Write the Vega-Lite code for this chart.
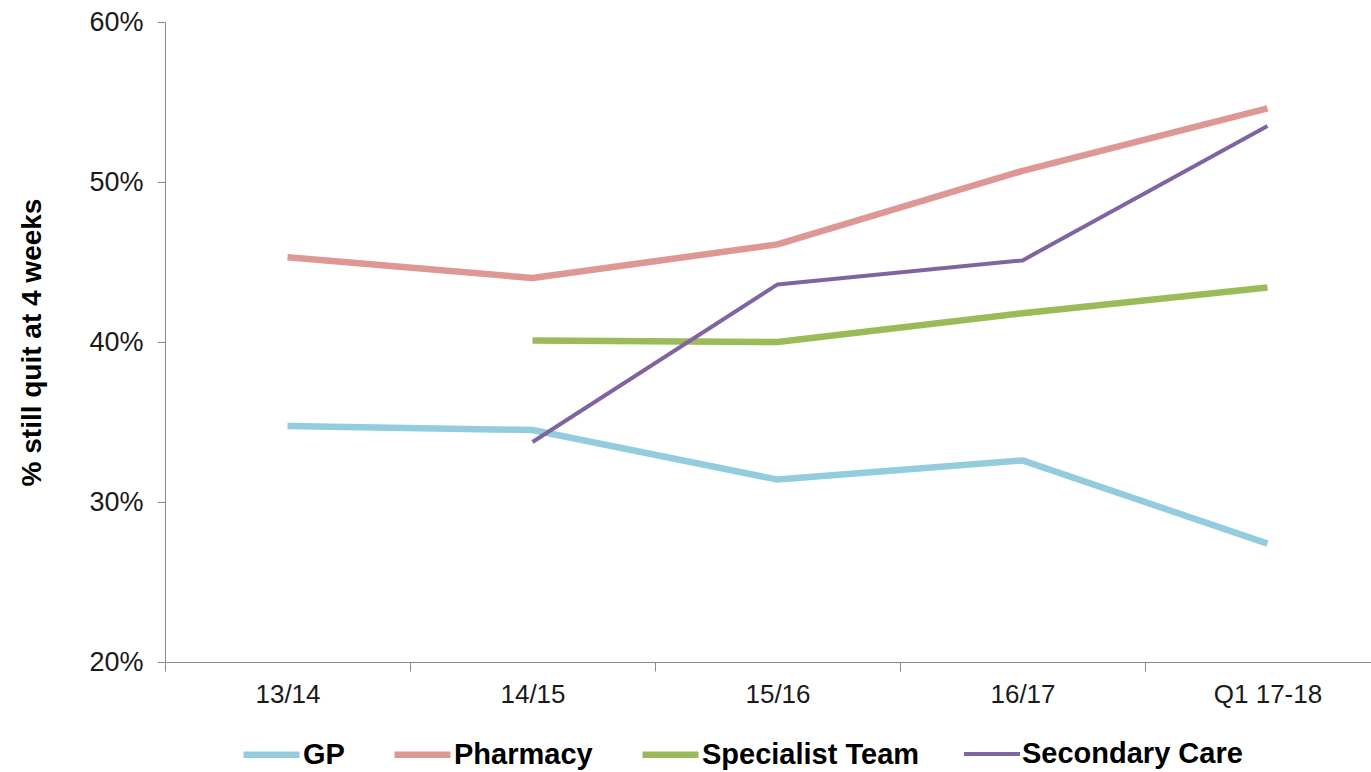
{
  "$schema": "https://vega.github.io/schema/vega-lite/v6.json",
  "autosize": {"type": "none"},
  "width": 1206,
  "height": 640,
  "padding": {"left": 165, "top": 22, "right": 0, "bottom": 110},
  "background": "white",
  "data": {
    "values": [
      {"year": "13/14", "series": "GP", "value": 0.3475},
      {"year": "14/15", "series": "GP", "value": 0.345},
      {"year": "15/16", "series": "GP", "value": 0.314},
      {"year": "16/17", "series": "GP", "value": 0.326},
      {"year": "Q1 17-18", "series": "GP", "value": 0.274},
      {"year": "13/14", "series": "Pharmacy", "value": 0.453},
      {"year": "14/15", "series": "Pharmacy", "value": 0.440},
      {"year": "15/16", "series": "Pharmacy", "value": 0.461},
      {"year": "16/17", "series": "Pharmacy", "value": 0.507},
      {"year": "Q1 17-18", "series": "Pharmacy", "value": 0.546},
      {"year": "14/15", "series": "Specialist Team", "value": 0.401},
      {"year": "15/16", "series": "Specialist Team", "value": 0.400},
      {"year": "16/17", "series": "Specialist Team", "value": 0.418},
      {"year": "Q1 17-18", "series": "Specialist Team", "value": 0.434},
      {"year": "14/15", "series": "Secondary Care", "value": 0.3375},
      {"year": "15/16", "series": "Secondary Care", "value": 0.436},
      {"year": "16/17", "series": "Secondary Care", "value": 0.451},
      {"year": "Q1 17-18", "series": "Secondary Care", "value": 0.535}
    ]
  },
  "config": {
    "view": {"stroke": null},
    "font": "Liberation Sans"
  },
  "mark": {"type": "line", "strokeCap": "butt", "strokeJoin": "round"},
  "encoding": {
    "x": {
      "field": "year",
      "type": "nominal",
      "sort": null,
      "scale": {"type": "band", "range": [0, 1225], "paddingInner": 0, "paddingOuter": 0},
      "axis": {
        "title": null,
        "labelAngle": 0,
        "labelFontSize": 26,
        "labelColor": "#1a1a1a",
        "labelPadding": 10,
        "tickBand": "extent",
        "tickSize": 9,
        "tickColor": "#888888",
        "domainColor": "#888888",
        "grid": false
      }
    },
    "y": {
      "field": "value",
      "type": "quantitative",
      "scale": {"domain": [0.2, 0.6]},
      "axis": {
        "title": "% still quit at 4 weeks",
        "titleFontSize": 28,
        "titleFontWeight": "bold",
        "titleColor": "#000000",
        "titlePadding": 42,
        "format": ".0%",
        "values": [0.2, 0.3, 0.4, 0.5, 0.6],
        "labelFontSize": 27,
        "labelColor": "#1a1a1a",
        "labelPadding": 14,
        "tickSize": 8,
        "tickColor": "#888888",
        "domainColor": "#888888",
        "grid": false
      }
    },
    "color": {
      "field": "series",
      "type": "nominal",
      "scale": {
        "domain": ["GP", "Pharmacy", "Specialist Team", "Secondary Care"],
        "range": ["#93CDDD", "#DD9896", "#9BBB59", "#8064A2"]
      },
      "legend": {
        "title": null,
        "orient": "none",
        "legendX": 75,
        "legendY": 701,
        "direction": "horizontal",
        "symbolType": "stroke",
        "symbolSize": 3136,
        "labelFontSize": 29,
        "labelFontWeight": "bold",
        "labelColor": "#000000",
        "labelOffset": 0,
        "labelLimit": 400,
        "columnPadding": 36
      }
    },
    "strokeWidth": {
      "field": "series",
      "type": "nominal",
      "scale": {
        "type": "ordinal",
        "domain": ["GP", "Pharmacy", "Specialist Team", "Secondary Care"],
        "range": [6.5, 6.5, 6.5, 4]
      },
      "legend": {
        "title": null,
        "orient": "none",
        "legendX": 75,
        "legendY": 701,
        "direction": "horizontal",
        "symbolType": "stroke",
        "symbolSize": 3136,
        "labelFontSize": 29,
        "labelFontWeight": "bold",
        "labelColor": "#000000",
        "labelOffset": 0,
        "labelLimit": 400,
        "columnPadding": 36
      }
    }
  }
}
